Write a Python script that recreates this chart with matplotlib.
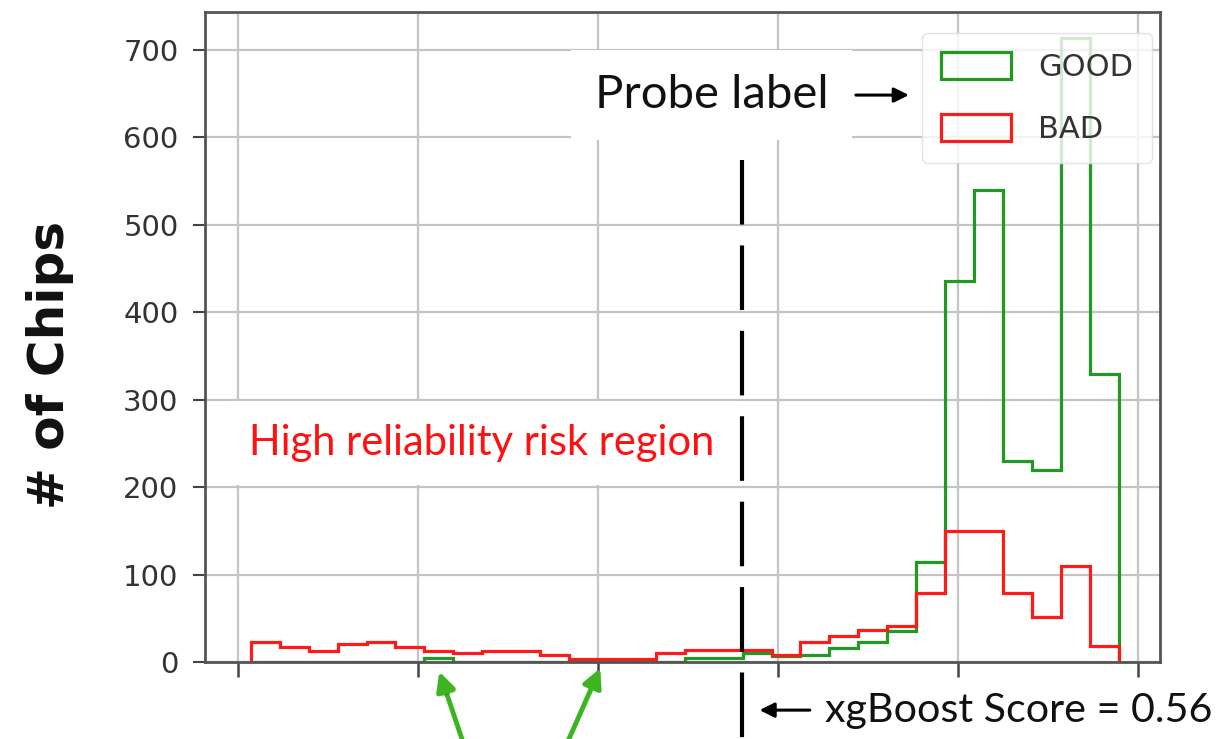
import matplotlib as mpl
mpl.use('Agg')
import matplotlib.pyplot as plt
import matplotlib.patheffects as pe
import numpy as np

# xgBoost score histogram, 30 bins between min and max score
SCORE_MIN = 0.0139
SCORE_MAX = 0.978
N_BINS = 30
GOOD = [0, 0, 0, 0, 0, 0, 4, 0, 0, 0, 0, 0, 0, 0, 0,
        4, 5, 10, 7, 8, 16, 23, 36, 114, 435, 540, 230, 219, 713, 329]
BAD = [23, 17, 13, 20, 23, 17, 13, 10, 13, 13, 8, 3, 3, 3, 10,
       14, 14, 14, 8, 23, 30, 37, 41, 79, 150, 150, 79, 52, 110, 18]
LABELS = ['GOOD', 'BAD']
THRESHOLD = 0.56
X_TICKS = [0.0, 0.2, 0.4, 0.6, 0.8, 1.0]
Y_TICKS = [0, 100, 200, 300, 400, 500, 600, 700]

GREEN = '#229922'
RED = '#ff1a1a'
ARROW_GREEN = '#3cb521'
TEXT_FONT = 'Lato'

edges = np.linspace(SCORE_MIN, SCORE_MAX, N_BINS + 1)
centers = (edges[:-1] + edges[1:]) / 2

fig = plt.figure(figsize=(12.29, 7.39), dpi=100)
ax = fig.add_axes([0.1668, 0.1042, 0.7771, 0.8796])

ax.hist(centers, bins=edges, weights=GOOD, histtype='step', color=GREEN,
        linewidth=2.3, label=LABELS[0])
ax.hist(centers, bins=edges, weights=BAD, histtype='step', color=RED,
        linewidth=2.3, label=LABELS[1])

ax.set_xlim(-0.037, 1.024)
ax.set_ylim(0, 743)
ax.set_xticks(X_TICKS)
ax.set_xticklabels([])
ax.set_yticks(Y_TICKS)
ax.set_axisbelow(True)
ax.grid(True, color='#c4c4c4', linewidth=1.6)

for s in ax.spines.values():
    s.set_color('#555555')
    s.set_linewidth(2.0)
ax.tick_params(axis='y', labelsize=21, labelcolor='#333333', length=9,
               width=1.5, color='#444444', pad=10)
ax.tick_params(axis='x', length=11, width=1.8, color='#444444')

ax.set_ylabel('# of Chips', fontsize=36, fontweight='bold', color='#111111')
ax.yaxis.set_label_coords(-0.137, 0.457)

leg = ax.legend(loc='upper right', bbox_to_anchor=(0.992, 0.968),
                borderaxespad=0, fontsize=22, handlelength=2.3,
                handleheight=1.0, handletextpad=0.9, labelspacing=1.05,
                borderpad=0.62, framealpha=0.8, edgecolor='#dddddd')
for t in leg.get_texts():
    t.set_color('#333333')

# threshold line
ax.plot([THRESHOLD, THRESHOLD], [574, -88], color='black', linewidth=3,
        dashes=(15.5, 5), clip_on=False, zorder=5)

# annotations
ax.text(0.5256, 648, 'Probe label', fontsize=34, family=TEXT_FONT,
        ha='center', va='center', color='#111111', zorder=6,
        bbox=dict(boxstyle='square,pad=0.5', fc='white', ec='none'))
ax.annotate('', xy=(0.748, 648), xytext=(0.683, 648),
            arrowprops=dict(arrowstyle='-|>', color='black', lw=2.2,
                            mutation_scale=22), zorder=6)

ax.text(0.2700, 250, 'High reliability risk region', fontsize=30,
        family=TEXT_FONT, ha='center', va='center', color='#ff1111',
        zorder=6, bbox=dict(boxstyle='square,pad=0.55', fc='white', ec='none'))

ax.annotate('', xy=(0.576, -55), xytext=(0.638, -55),
            arrowprops=dict(arrowstyle='-|>', color='black', lw=2.2,
                            mutation_scale=22), annotation_clip=False)
ax.text(0.652, -55, 'xgBoost Score = 0.56', fontsize=29.7, family=TEXT_FONT,
        ha='left', va='center', color='#111111', clip_on=False)

for tip, tail in [((0.2233, -11), (0.2540, -105)), ((0.4022, -7), (0.3600, -105))]:
    a = ax.annotate('', xy=tip, xytext=tail, annotation_clip=False,
                    arrowprops=dict(arrowstyle='-|>', color=ARROW_GREEN, lw=3.5,
                                    mutation_scale=28, shrinkA=0, shrinkB=0))
    a.arrow_patch.set_path_effects([pe.SimplePatchShadow(offset=(2, -2), alpha=0.3), pe.Normal()])

fig.savefig('out.png', dpi=100)
